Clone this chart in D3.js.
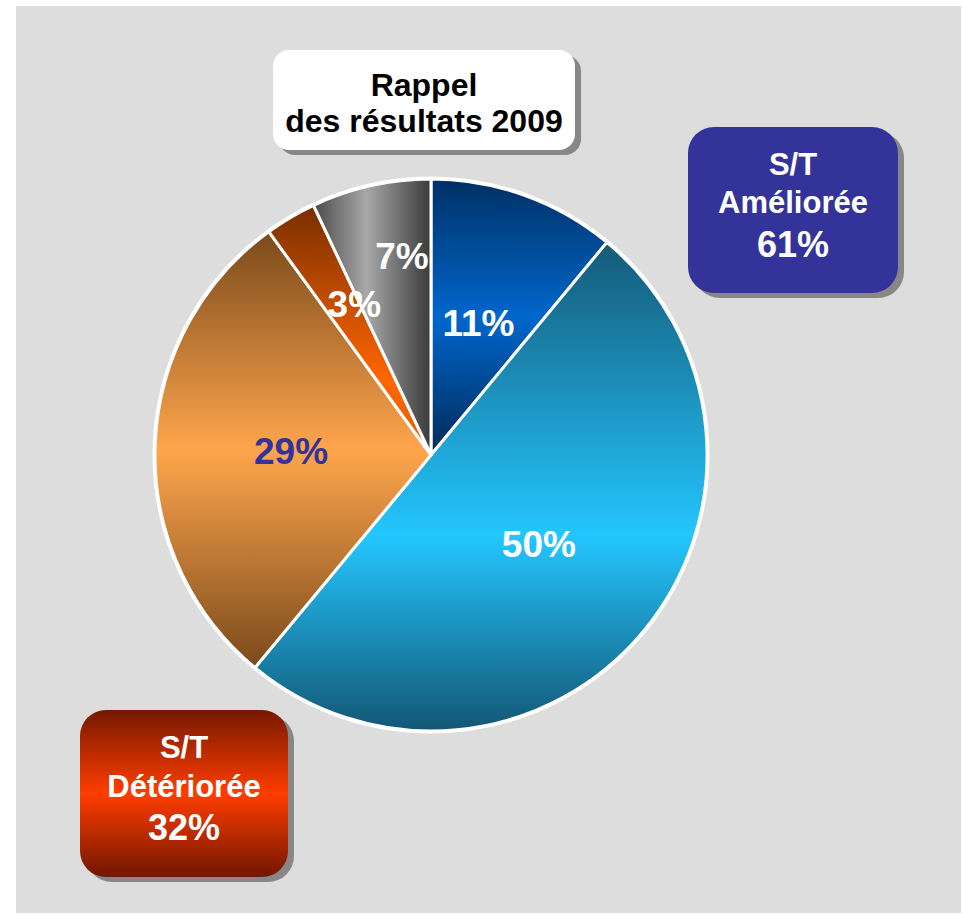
<!DOCTYPE html>
<html>
<head>
<meta charset="utf-8">
<script src="https://cdn.jsdelivr.net/npm/d3@7"></script>
<style>
  html, body { margin: 0; padding: 0; background: #ffffff; }
  svg { display: block; }
  text { font-family: "Liberation Sans", Arial, sans-serif; font-weight: bold; }
</style>
</head>
<body>
<script>
// ---- data ----
const categories = ["Très améliorée", "Améliorée", "Identique", "Détériorée", "Très détériorée"];
const values = [11, 50, 29, 3, 7];
const sliceLabels = ["11%", "50%", "29%", "3%", "7%"];
const titleLines = ["Rappel", "des résultats 2009"];
const improvedLines = ["S/T", "Améliorée", "61%"];
const worsenedLines = ["S/T", "Détériorée", "32%"];

// ---- styles ----
const W = 963, H = 914;
const cx = 431, cy = 455, R = 276;
const gradients = [
  { dir: "v", stops: [[0, "#003064"], [0.5, "#0066cc"], [1, "#002a58"]] },
  { dir: "v", stops: [[0, "#155a78"], [0.6, "#24c6ff"], [1, "#135674"]] },
  { dir: "v", stops: [[0, "#7a4a1c"], [0.5, "#ffa54c"], [1, "#7a4a1c"]] },
  { dir: "v", stops: [[0, "#7a2e00"], [0.7, "#ff6600"], [1, "#e65c00"]] },
  { dir: "h", stops: [[0, "#4a4a4a"], [0.45, "#a8a8a8"], [1, "#3a3a3a"]] }
];
const labelColors = ["#ffffff", "#ffffff", "#333399", "#ffffff", "#ffffff"];
const labelRadius = [140, 140, 140, 169, 201];
const labelAngleShift = [0, 0, 0, 0.063, 0.075];

const svg = d3.select("body").append("svg").attr("width", W).attr("height", H);
const defs = svg.append("defs");

svg.append("rect").attr("x", 16).attr("y", 6).attr("width", 945).attr("height", 907).attr("fill", "#dddddd");

gradients.forEach((g, i) => {
  const lg = defs.append("linearGradient").attr("id", "g" + i)
    .attr("x1", 0).attr("y1", 0)
    .attr("x2", g.dir === "h" ? 1 : 0).attr("y2", g.dir === "h" ? 0 : 1);
  g.stops.forEach(s => lg.append("stop").attr("offset", s[0]).attr("stop-color", s[1]));
});
const rg = defs.append("linearGradient").attr("id", "redbox").attr("x1", 0).attr("y1", 0).attr("x2", 0).attr("y2", 1);
[[0, "#761800"], [0.5, "#ff3d00"], [1, "#721600"]].forEach(s => rg.append("stop").attr("offset", s[0]).attr("stop-color", s[1]));

// ---- pie ----
const pie = d3.pie().sort(null).value(d => d)(values);
const arc = d3.arc().innerRadius(0).outerRadius(R);
const g = svg.append("g").attr("transform", `translate(${cx},${cy})`);
g.append("circle").attr("r", R).attr("fill", "none").attr("stroke", "#ffffff").attr("stroke-width", 5);
g.selectAll("path.slice").data(pie).join("path")
  .attr("class", "slice")
  .attr("d", arc)
  .attr("fill", (d, i) => `url(#g${i})`)
  .attr("stroke", "#ffffff").attr("stroke-width", 3).attr("stroke-linejoin", "round");

g.selectAll("text.lbl").data(pie).join("text")
  .attr("class", "lbl")
  .attr("transform", (d, i) => {
    const a = (d.startAngle + d.endAngle) / 2 + labelAngleShift[i];
    const r = labelRadius[i];
    return `translate(${r * Math.sin(a)},${-r * Math.cos(a)})`;
  })
  .attr("text-anchor", "middle").attr("dy", "0.35em")
  .attr("font-size", 37)
  .attr("fill", (d, i) => labelColors[i])
  .text((d, i) => sliceLabels[i]);

// ---- boxes ----
function box(x, y, w, h, rx, fill, lines, color, sizes, baselines) {
  svg.append("rect").attr("x", x + 6).attr("y", y + 5).attr("width", w).attr("height", h).attr("rx", rx).attr("fill", "#878787");
  svg.append("rect").attr("x", x).attr("y", y).attr("width", w).attr("height", h).attr("rx", rx).attr("fill", fill);
  lines.forEach((t, i) => {
    svg.append("text").attr("x", x + w / 2).attr("y", baselines[i])
      .attr("text-anchor", "middle").attr("font-size", sizes[i]).attr("fill", color).text(t);
  });
}
box(273, 50, 302, 100, 16, "#ffffff", titleLines, "#000000", [32, 32], [96, 132]);
box(688, 127, 210, 166, 26, "#333399", improvedLines, "#ffffff", [31, 31, 36], [175, 213, 257]);
box(80, 710, 208, 167, 26, "url(#redbox)", worsenedLines, "#ffffff", [31, 31, 36], [758, 797, 840]);
</script>
</body>
</html>
